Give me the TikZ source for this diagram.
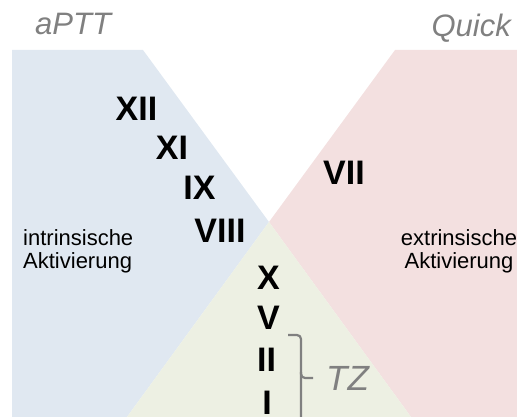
\documentclass[tikz,border=0pt]{standalone}
\usepackage{fontspec}
\setmainfont{Liberation Sans}
\definecolor{regblue}{RGB}{224,232,241}
\definecolor{regpink}{RGB}{243,224,224}
\definecolor{reggreen}{RGB}{237,240,227}
\definecolor{txtgray}{RGB}{128,128,128}
\begin{document}
\begin{tikzpicture}[x=1pt,y=-1pt,
  factor/.style={inner sep=0pt,font=\fontsize{34}{38}\selectfont\bfseries,text=black},
  title/.style={inner sep=0pt,font=\fontsize{31}{35}\selectfont\itshape,text=txtgray},
  label/.style={inner sep=0pt,font=\fontsize{22}{23}\selectfont,text=black},
  bracket/.style={draw=txtgray,line width=2.2pt,rounded corners=4pt}]
\useasboundingbox (0,0) rectangle (517,417);
% regions
\fill[regblue] (12,50) -- (143,50) -- (269,222) -- (127,417) -- (12,417) -- cycle;
\fill[regpink] (395,50) -- (517,50) -- (517,417) -- (411,417) -- (269,222) -- cycle;
\fill[reggreen] (269,222) -- (411,417) -- (127,417) -- cycle;
% titles
\node[title,anchor=base west] (aptt) at (35,35) {aPTT};
\node[title,anchor=base east] (quick) at (511,37) {Quick};
% side labels
\node[label,anchor=north west,align=left] (intr) at (23,229) {intrinsische\\Aktivierung};
\node[label,anchor=north,align=center] (extr) at (459,229) {extrinsische\\Aktivierung};
% factors
\node[factor] (f12) at (136.5,108.5) {XII};
\node[factor] (f11) at (172,147.5) {XI};
\node[factor] (f9) at (199.5,187.5) {IX};
\node[factor] (f8) at (220,230.5) {VIII};
\node[factor] (f7) at (344,172.5) {VII};
\node[factor] (f10) at (268.5,277.5) {X};
\node[factor] (f5) at (268.5,317.5) {V};
\node[factor] (f2) at (266.5,360) {II};
\node[factor] (f1) at (267,403) {I};
% bracket
\coordinate (btop) at (288,335);
\coordinate (bbot) at (301,425);
\coordinate (bmid) at (301,378);
\coordinate (btip) at (313,378);
\draw[bracket] (btop) -- (301,335) -- (bbot);
\draw[bracket] (301,372) -- (bmid) -- (btip);
\node[title,font=\fontsize{35}{39}\selectfont\itshape,anchor=base west] (tz) at (326,390) {TZ};
\end{tikzpicture}
\end{document}
